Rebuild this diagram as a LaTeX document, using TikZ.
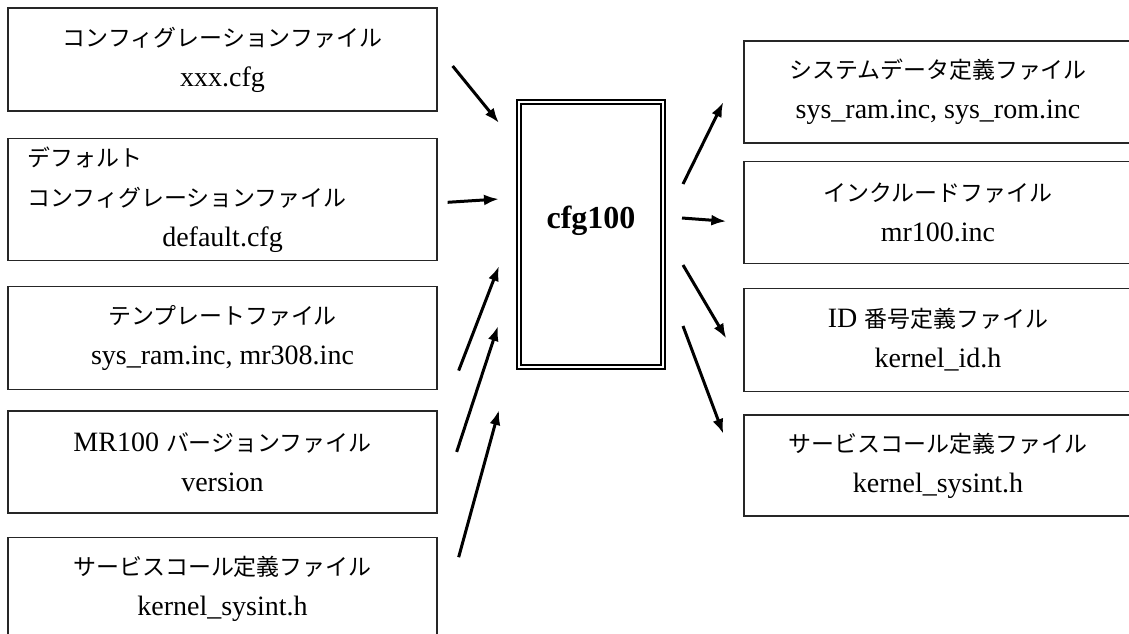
\documentclass[tikz,border=0pt]{standalone}
\usepackage{fontspec}
\setmainfont{Liberation Serif}
\newfontfamily\jp{Noto Sans CJK JP}[Scale=0.82]
\usepackage{tikz}
\usetikzlibrary{arrows.meta,positioning}

\begin{document}
\begin{tikzpicture}[x=1pt,y=-1pt,>={Latex[length=15pt,width=11pt]},node distance=24pt]
  \tikzstyle{filebox}=[draw=black!85,line width=1.3pt,align=center,inner sep=3pt,font=\fontsize{28}{40}\selectfont]
  \tikzstyle{inbox}=[filebox,minimum width=429pt]
  \tikzstyle{outbox}=[filebox,minimum width=388pt]
  \tikzstyle{tool}=[draw,double,line width=2.2pt,double distance=1.4pt,minimum width=144pt,minimum height=265pt,font=\fontsize{32}{36}\selectfont\bfseries]
  \tikzstyle{flow}=[->,line width=3pt]
  \useasboundingbox (0,0) rectangle (1129,633);
  \clip (0,0) rectangle (1129,633);
  % input files
  \node[inbox,minimum height=103pt] (in1) at (222.5,59.5) {{\jp コンフィグレーションファイル}\\xxx.cfg};
  \node[inbox,minimum height=122pt,text width=390pt,align=left,below=26pt of in1] (in2) {{\jp デフォルト}\\{\jp コンフィグレーションファイル}\\\makebox[390pt]{default.cfg}};
  \node[inbox,minimum height=103pt,below=25pt of in2] (in3) {{\jp テンプレートファイル}\\sys\_ram.inc, mr308.inc};
  \node[inbox,minimum height=102pt,below=20pt of in3] (in4) {MR100 {\jp バージョンファイル}\\version};
  \node[inbox,minimum height=103pt,below=23pt of in4] (in5) {{\jp サービスコール定義ファイル}\\kernel\_sysint.h};
  % configurator
  \node[tool] (cfg) at (591,234.5) {\raisebox{6.5pt}[0pt][0pt]{cfg100}};
  % output files
  \node[outbox,minimum height=102pt] (out1) at (938,92) {{\jp システムデータ定義ファイル}\\sys\_ram.inc, sys\_rom.inc};
  \node[outbox,minimum height=102pt,below=17pt of out1] (out2) {{\jp インクルードファイル}\\mr100.inc};
  \node[outbox,minimum height=103pt,below=24pt of out2] (out3) {ID {\jp 番号定義ファイル}\\kernel\_id.h};
  \node[outbox,minimum height=101pt,below=22pt of out3] (out4) {{\jp サービスコール定義ファイル}\\kernel\_sysint.h};
  % inputs into cfg100
  \draw[flow] ([shift={(15,6.5)}]in1.east) -- ([shift={(-92,-111.5)}]cfg.center);
  \draw[flow] ([shift={(10,3)}]in2.east) -- ([shift={(-92,-35.5)}]cfg.center);
  \draw[flow] ([shift={(21,32.5)}]in3.east) -- ([shift={(-92,31.5)}]cfg.center);
  \draw[flow] ([shift={(19,-10)}]in4.east) -- ([shift={(-93,91.5)}]cfg.center);
  \draw[flow] ([shift={(21,-31.5)}]in5.east) -- ([shift={(-92,175.5)}]cfg.center);
  % outputs from cfg100
  \draw[flow] ([shift={(92,-50.5)}]cfg.center) -- ([shift={(-20,10)}]out1.west);
  \draw[flow] ([shift={(91,-16.5)}]cfg.center) -- ([shift={(-17,9)}]out2.west);
  \draw[flow] ([shift={(92,30.5)}]cfg.center) -- ([shift={(-17,-1.5)}]out3.west);
  \draw[flow] ([shift={(92,91.5)}]cfg.center) -- ([shift={(-20,-31.5)}]out4.west);
\end{tikzpicture}
\end{document}
